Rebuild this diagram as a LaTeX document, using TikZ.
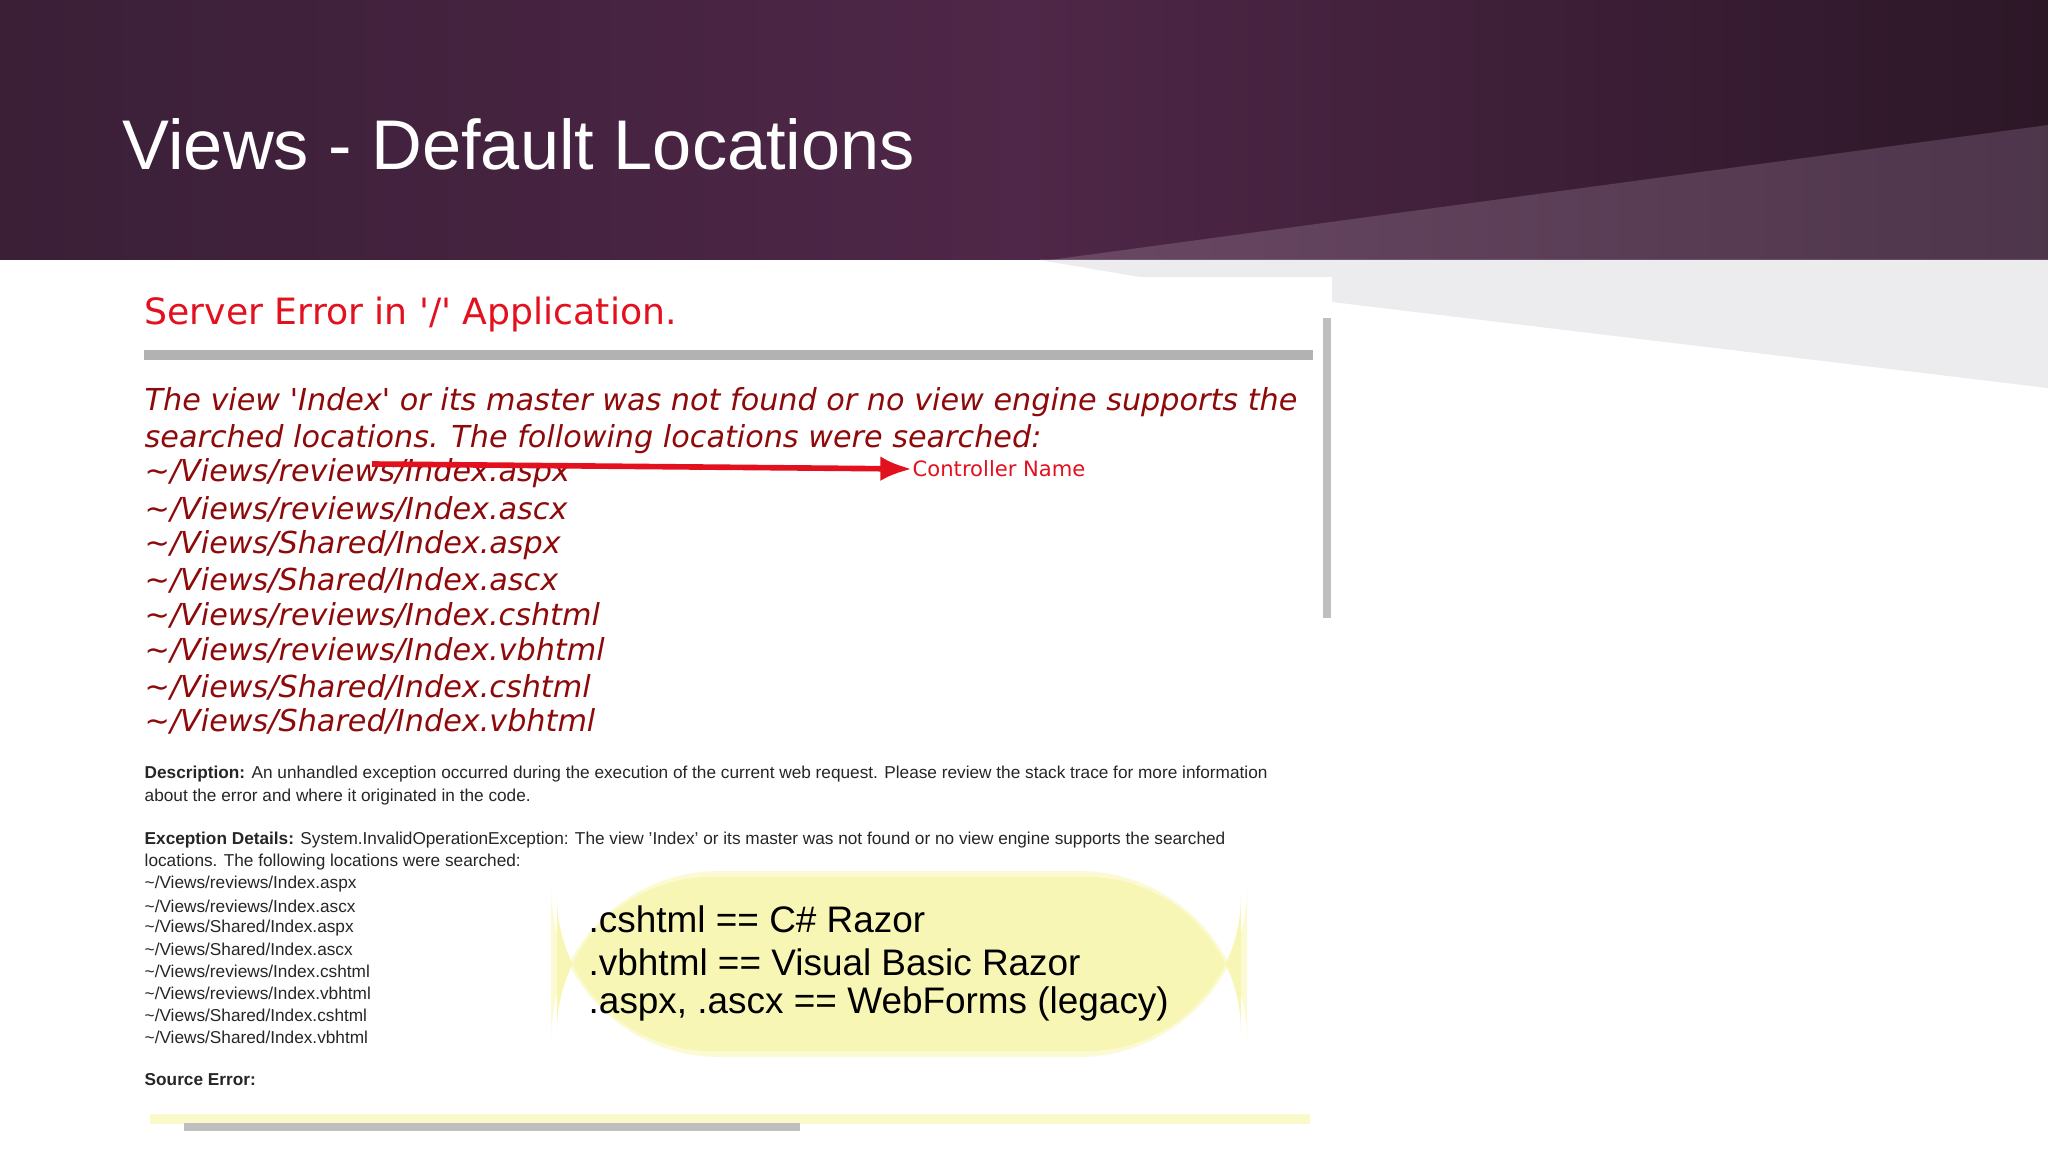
\documentclass[tikz,border=0pt]{standalone}
\usepackage{fontspec}
\setmainfont{Liberation Sans}
\newfontfamily\dvs{DejaVu Sans}
\usetikzlibrary{arrows.meta}
\definecolor{errred}{HTML}{E3101E}
\definecolor{maroon}{HTML}{8E0A0A}
\definecolor{hdrA}{HTML}{3A1F37}
\definecolor{hdrB}{HTML}{4F2748}
\definecolor{hdrC}{HTML}{2C1727}
\definecolor{lightg}{HTML}{ECEBED}
\definecolor{yel}{HTML}{F8F6B4}
\tikzset{
  ital/.style={anchor=west,inner sep=0pt,text=maroon,font=\dvs\itshape\fontsize{8.6}{10}\selectfont},
  small/.style={anchor=west,inner sep=0pt,text=black!85,font=\fontsize{4.9}{6}\selectfont},
  smallb/.style={anchor=west,inner sep=0pt,text=black!85,font=\fontsize{4.9}{6}\selectfont\bfseries},
  big/.style={anchor=west,inner sep=0pt,text=black,font=\fontsize{10.5}{12}\selectfont},
}
\begin{document}
\begin{tikzpicture}[x=0.01cm,y=-0.01cm]
\useasboundingbox (0,0) rectangle (2048,1152);
\fill[white] (0,0) rectangle (2048,1152);
% header
\shade[left color=hdrA,right color=hdrC,middle color=hdrB] (0,0) rectangle (2048,260);
\shade[left color=hdrB!85!white,right color=hdrA!90!white] (1050,260) -- (2048,125) -- (2048,260) -- cycle;
\node[anchor=west,inner sep=0pt,text=white,font=\fontsize{20}{24}\selectfont] (title) at (122,144) {Views - Default Locations};
% gray area
\fill[lightg] (1040,260) -- (2048,260) -- (2048,388) -- (1332,302) -- (1332,277) -- (1140,277) -- cycle;
% panel
\fill[white] (132,277) rectangle (1330,1131);
\fill[black!25] (1323,318) rectangle (1331,618);
\node[anchor=west,inner sep=0pt,text=errred,font=\dvs\fontsize{10.3}{12}\selectfont] (err) at (144,315) {Server Error in '/' Application.};
\draw[black!30,line width=3pt] (144,355) -- (1313,355);
\node[ital] (l1) at (144,402) {The view 'Index' or its master was not found or no view engine supports the};
\node[ital] (l2) at (144,439) {searched locations. The following locations were searched:};
\node[ital] (p1) at (144,473) {\char`\~/Views/reviews/Index.aspx};
\node[ital] (p2) at (144,509) {\char`\~/Views/reviews/Index.ascx};
\node[ital] (p3) at (144,545) {\char`\~/Views/Shared/Index.aspx};
\node[ital] (p4) at (144,580) {\char`\~/Views/Shared/Index.ascx};
\node[ital] (p5) at (144,615) {\char`\~/Views/reviews/Index.cshtml};
\node[ital] (p6) at (144,650) {\char`\~/Views/reviews/Index.vbhtml};
\node[ital] (p7) at (144,687) {\char`\~/Views/Shared/Index.cshtml};
\node[ital] (p8) at (144,721) {\char`\~/Views/Shared/Index.vbhtml};
\coordinate (as) at (372,464);
\node[anchor=west,inner sep=0pt,text=errred,font=\dvs\fontsize{6}{7}\selectfont] (cn) at (912,469) {Controller Name};
\draw[errred,line width=1.6pt,-{Latex[length=9pt,width=7pt]}] (as) -- (cn.west);
% small text
\node[small] (d1) at (144,774) {\textbf{Description:} An unhandled exception occurred during the execution of the current web request. Please review the stack trace for more information};
\node[small] (d2) at (144,797) {about the error and where it originated in the code.};
\node[small] (e1) at (144,840) {\textbf{Exception Details:} System.InvalidOperationException: The view 'Index' or its master was not found or no view engine supports the searched};
\node[small] (e2) at (144,862) {locations. The following locations were searched:};
\foreach \t [count=\i from 0] in {reviews/Index.aspx,reviews/Index.ascx,Shared/Index.aspx,Shared/Index.ascx,reviews/Index.cshtml,reviews/Index.vbhtml,Shared/Index.cshtml,Shared/Index.vbhtml}
  \node[small] (s\i) at (144,884+21.9*\i) {\char`\~/Views/\t};
\node[smallb] (se) at (144,1080) {Source Error:};
% yellow box
\fill[yel!60!white,rounded corners=48] (551,871) rectangle (1247,1057);
\fill[yel,rounded corners=44] (557,877) rectangle (1241,1051);
\node[big] (y1) at (588,919) {.cshtml == C\# Razor};
\node[big] (y2) at (588,962) {.vbhtml == Visual Basic Razor};
\node[big] (y3) at (588,1004) {.aspx, .ascx == WebForms (legacy)};
% bottom
\fill[yel!70!white] (150,1114) rectangle (1310,1124);
\fill[black!25] (184,1123) rectangle (800,1131);
\end{tikzpicture}
\end{document}
